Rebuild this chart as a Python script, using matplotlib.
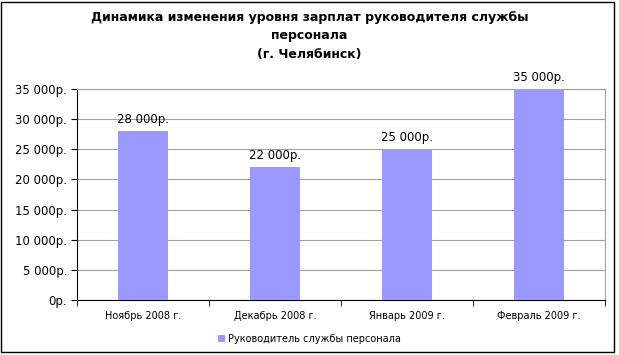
import matplotlib
matplotlib.use("Agg")
import matplotlib.pyplot as plt
from matplotlib.patches import Rectangle

categories = ["Ноябрь 2008 г.", "Декабрь 2008 г.", "Январь 2009 г.", "Февраль 2009 г."]
values = [28000, 22000, 25000, 35000]
series_name = "Руководитель службы персонала"
yticks = [0, 5000, 10000, 15000, 20000, 25000, 30000, 35000]

def fmt(v):
    return ("{:,}".format(v).replace(",", " ") if v else "0") + "р."

plt.rcParams['font.family'] = ['DejaVu Sans']
W, H = 619, 355
fig = plt.figure(figsize=(W/100, H/100), dpi=100)
ax = fig.add_axes([77/W, 1-300/H, (605-77)/W, (300-89)/H])

x = list(range(len(categories)))
bars = ax.bar(x, values, width=0.386, color="#9999FF", zorder=3, label=series_name)
for xi, v in zip(x, values):
    ax.text(xi, v + 900, fmt(v), ha="center", va="bottom", fontsize=8.5, color="black")

ax.set_xlim(-0.5, len(categories) - 0.5)
ax.set_ylim(0, 35000)
ax.set_yticks(yticks)
ax.set_yticklabels([fmt(v) for v in yticks], fontsize=8.5)
ax.yaxis.grid(True, color="#a0a0a0", linewidth=0.8, zorder=0)
ax.set_xticks(x)
ax.set_xticklabels(categories, fontsize=7)
ax.tick_params(axis="x", length=0, pad=8)
ax.set_xticks([i - 0.5 for i in range(len(categories) + 1)], minor=True)
ax.tick_params(axis="x", which="minor", length=4, direction="out", color="black")
ax.tick_params(axis="y", length=4, direction="out", color="black", pad=3)
ax.spines["left"].set_color("black")
ax.spines["bottom"].set_color("black")
ax.spines["top"].set_color("#a0a0a0")
ax.spines["right"].set_color("#a0a0a0")

fig.text(0.5, 1-11/H, "Динамика изменения уровня зарплат руководителя службы\nперсонала\n(г. Челябинск)",
         ha="center", va="top", fontsize=9, fontweight="bold", linespacing=1.55)

leg = fig.legend(handles=[bars], labels=[series_name], loc="center", bbox_to_anchor=(0.5, 1-339/H),
                 frameon=False, fontsize=7, handlelength=0.7, handleheight=0.7, handletextpad=0.4)

fig.patches.append(Rectangle((1/W, 3/H), 613/W, 350/H, transform=fig.transFigure,
                             fill=False, edgecolor="black", linewidth=1))
fig.savefig("out.png", dpi=100)
